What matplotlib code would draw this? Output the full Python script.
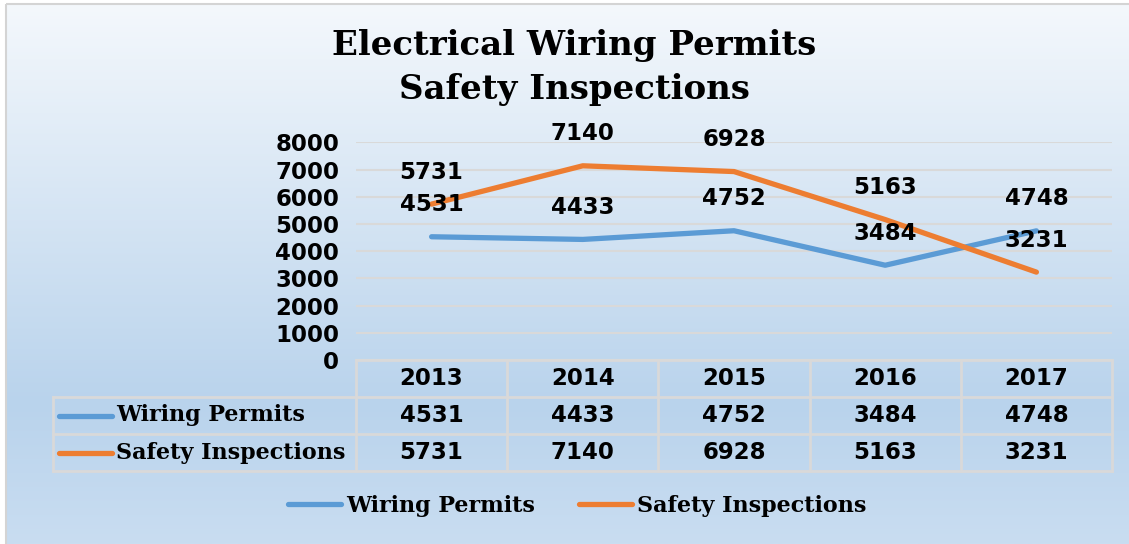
import numpy as np
import matplotlib.pyplot as plt
from matplotlib import transforms
from matplotlib.colors import LinearSegmentedColormap
from matplotlib.lines import Line2D
from matplotlib.patches import Rectangle

# chart data
years = ["2013", "2014", "2015", "2016", "2017"]
wiring_permits = [4531, 4433, 4752, 3484, 4748]
safety_inspections = [5731, 7140, 6928, 5163, 3231]
series_names = ["Wiring Permits", "Safety Inspections"]
title_lines = ["Electrical Wiring Permits", "Safety Inspections"]
y_ticks = list(range(0, 8001, 1000))

W, H = 1129, 544
BLUE = "#5b9bd5"
ORANGE = "#ed7d31"
GRID = "#d9d9d9"
NUM_FONT = dict(family="DejaVu Sans", weight="bold", size=16.5)
SERIF_FONT = dict(family="DejaVu Serif", weight="bold", size=16)

fig = plt.figure(figsize=(W / 100, H / 100), dpi=100)

# full-figure axes in pixel units for background, frame, table and title
bg = fig.add_axes([0, 0, 1, 1])
bg.set_xlim(0, W)
bg.set_ylim(H, 0)
bg.axis("off")
cmap = LinearSegmentedColormap.from_list(
    "bg", [(0, "#f4f8fc"), (0.74, "#b9d3ec"), (1, "#c9ddf1")])
grad = np.linspace(0, 1, 256).reshape(-1, 1)
bg.imshow(grad, cmap=cmap, extent=[6, W, H, 4], aspect="auto", zorder=0)
bg.add_patch(Rectangle((5.5, 3.5), W, H, fill=False, ec="#d4d4d4", lw=1.5, zorder=1))

for i, line in enumerate(title_lines):
    bg.text(574, 46 + 43 * i, line, ha="center", va="center",
            family="DejaVu Serif", weight="bold", size=24.5)

# plot area
ax = fig.add_axes([356 / W, 1 - 360 / H, (1112 - 356) / W, (360 - 142.4) / H])
ax.patch.set_alpha(0)
x = np.arange(len(years))
ax.set_xlim(-0.5, len(years) - 0.5)
ax.set_ylim(0, 8000)
ax.set_yticks(y_ticks)
ax.set_yticklabels([str(t) for t in y_ticks], fontdict=NUM_FONT)
ax.tick_params(axis="y", length=0, pad=12)
ax.set_xticks([])
for s in ax.spines.values():
    s.set_visible(False)
ax.grid(axis="y", color=GRID, lw=1.5)
ax.set_axisbelow(True)

colors = [BLUE, ORANGE]
for vals, col in zip([wiring_permits, safety_inspections], colors):
    ax.plot(x, vals, color=col, lw=3.8, solid_capstyle="round", clip_on=False, zorder=3)
    for xi, v in zip(x, vals):
        ax.annotate(str(v), (xi, v), xytext=(0, 23), textcoords="offset points",
                    ha="center", va="center", zorder=4, **NUM_FONT)

# data table below the plot
fig.canvas.draw()
tr = transforms.blended_transform_factory(ax.transData, bg.transData)
right_px = ax.transData.transform((len(years) - 0.5, 0))[0]
rows = [360, 397, 434, 471]
left_px = 53
tkw = dict(color=GRID, lw=2, zorder=2, clip_on=False)
bg.plot([356, right_px], [rows[0]] * 2, **tkw)
for r in rows[1:]:
    bg.plot([left_px, right_px], [r, r], **tkw)
bg.plot([left_px, left_px], [rows[1], rows[3]], **tkw)
for b in np.arange(len(years) + 1) - 0.5:
    ax.plot([b, b], [rows[0], rows[3]], transform=tr, **tkw)

for xi, yr in zip(x, years):
    bg.text(xi, (rows[0] + rows[1]) / 2, yr, transform=tr, ha="center", va="center", **NUM_FONT)
for k, (name, vals, col) in enumerate(zip(series_names, [wiring_permits, safety_inspections], colors)):
    yc = (rows[k + 1] + rows[k + 2]) / 2
    bg.plot([59, 112], [yc, yc], color=col, lw=3.8, solid_capstyle="round")
    bg.text(116, yc, name, ha="left", va="center", **SERIF_FONT)
    for xi, v in zip(x, vals):
        bg.text(xi, yc, str(v), transform=tr, ha="center", va="center", **NUM_FONT)

# legend
handles = [Line2D([], [], color=c, lw=3.8, solid_capstyle="round") for c in colors]
fig.legend(handles, series_names, loc="center", bbox_to_anchor=(577 / W, 1 - 506 / H),
           ncol=2, frameon=False, handlelength=2.4, handletextpad=0.2,
           columnspacing=2.0, prop=dict(family="DejaVu Serif", weight="bold", size=16))

fig.savefig("out.png", dpi=100)
